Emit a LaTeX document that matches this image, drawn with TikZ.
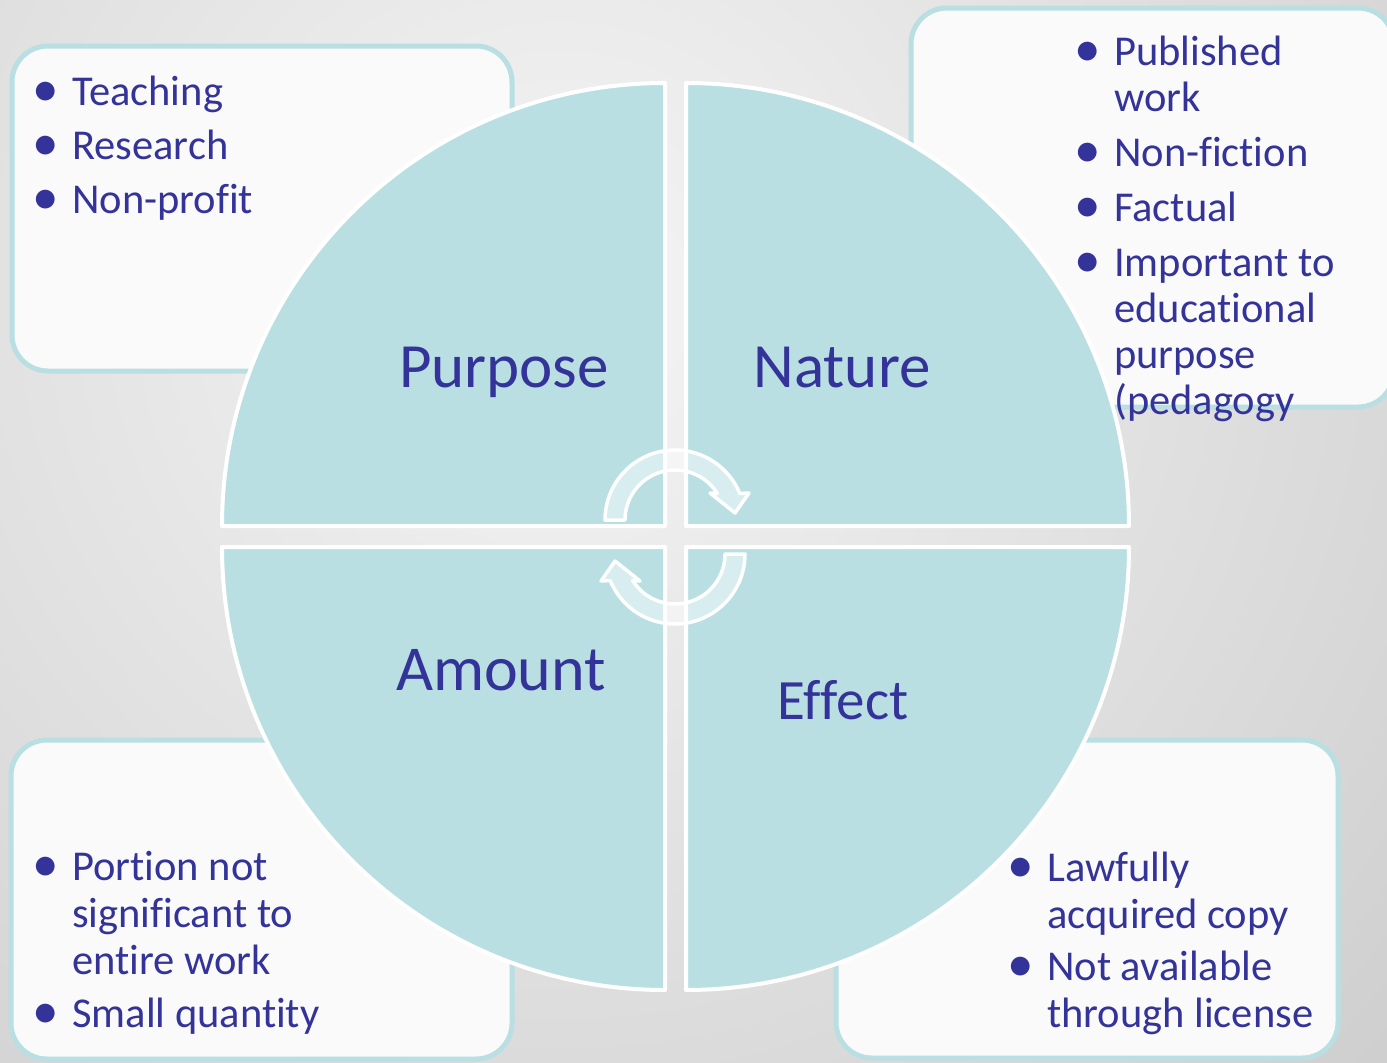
\documentclass[tikz,border=0pt]{standalone}
\usepackage{graphicx}
\usepackage{fontspec}
\setmainfont[Ligatures=NoCommon]{Carlito}
\definecolor{quad}{HTML}{B9DFE2}
\definecolor{boxline}{HTML}{B9DFE2}
\definecolor{boxfill}{HTML}{FAFAFA}
\definecolor{ink}{HTML}{333399}
\definecolor{bgin}{HTML}{F5F5F5}
\definecolor{bgout}{HTML}{AAAAAA}
\newcommand{\bul}{\makebox[37pt][l]{\hspace*{-2.5pt}\raisebox{-1pt}{\scalebox{1.25}{\textbullet}}}}
\begin{document}
\begin{tikzpicture}[x=1pt,y=-1pt,
  listbox/.style={draw=boxline,line width=5pt,fill=boxfill,rounded corners=36pt},
  sector/.style={fill=quad,draw=white,line width=4pt,line join=round},
  cyclearrow/.style={fill=white,fill opacity=0.45,draw=white,draw opacity=1,line width=3.5pt,line join=round},
  biglabel/.style={text=ink,anchor=base,inner sep=0pt,font=\fontsize{63}{70}\selectfont},
  items/.style={text=ink,anchor=base west,inner sep=0pt}]
\useasboundingbox (0,0) rectangle (1387,1063);
\begin{scope}
  \clip (0,0) rectangle (1387,1063);
  % backdrop
  \shade[inner color=bgin,outer color=bgout] (560,300) circle (2200);
  % the four list panels
  \draw[listbox] (12,46) rectangle (512,371);
  \draw[listbox] (911,8) rectangle (1394,407);
  \draw[listbox] (11,740) rectangle (512,1059);
  \draw[listbox] (836,740) rectangle (1338,1058);
\end{scope}
% quarter sectors of the wheel
\draw[sector] (665,526) -- (222,526) arc[start angle=180,end angle=270,radius=443] -- cycle;
\draw[sector] (686,526) -- (686,83) arc[start angle=270,end angle=360,radius=443] -- cycle;
\draw[sector] (686,547) -- (1129,547) arc[start angle=0,end angle=90,radius=443] -- cycle;
\draw[sector] (665,547) -- (665,990) arc[start angle=90,end angle=180,radius=443] -- cycle;
% circular arrows in the middle
\begin{scope}[shift={(675,520)}]
  \draw[cyclearrow] (180:70) arc[start angle=180,end angle=337.7,radius=70]
    -- (74,-27) -- (60,-7) -- (35,-27) -- (327.9:50)
    arc[start angle=327.9,end angle=180,radius=50] -- cycle;
\end{scope}
\begin{scope}[shift={(675,554)},rotate=180]
  \draw[cyclearrow] (180:70) arc[start angle=180,end angle=337.7,radius=70]
    -- (74,-27) -- (60,-7) -- (35,-27) -- (327.9:50)
    arc[start angle=327.9,end angle=180,radius=50] -- cycle;
\end{scope}
% wheel labels
\node[biglabel] (purpose) at (504,387) {Purpose};
\node[biglabel] (nature) at (842,387) {Nature};
\node[biglabel,font=\fontsize{64}{70}\selectfont] (amount) at (501,690) {Amount};
\node[biglabel,font=\fontsize{57}{62}\selectfont] (effect) at (843,719) {Effect};
% bullet lists
\node[items] (purposelist) at (35,105) {\fontsize{42.5}{46}\selectfont
  \begin{tabular}[t]{@{}l@{}l@{}}
  \bul & Teaching\\[8pt]
  \bul & Research\\[8pt]
  \bul & Non-profit
  \end{tabular}};
\node[items] (naturelist) at (1077,65) {\fontsize{42.5}{46}\selectfont
  \begin{tabular}[t]{@{}l@{}l@{}}
  \bul & Published\\
       & work\\[9pt]
  \bul & Non-fiction\\[9pt]
  \bul & Factual\\[9pt]
  \bul & Important to\\
       & educational\\
       & purpose\\
       & (pedagogy
  \end{tabular}};
\node[items] (amountlist) at (35,880) {\fontsize{42.5}{47}\selectfont
  \begin{tabular}[t]{@{}l@{}l@{}}
  \bul & Portion not\\
       & significant to\\
       & entire work\\[6pt]
  \bul & Small quantity
  \end{tabular}};
\node[items] (effectlist) at (1010,881) {\fontsize{42.5}{47}\selectfont
  \begin{tabular}[t]{@{}l@{}l@{}}
  \bul & Lawfully\\
       & acquired copy\\[5pt]
  \bul & Not available\\
       & through license
  \end{tabular}};
\end{tikzpicture}
\end{document}
